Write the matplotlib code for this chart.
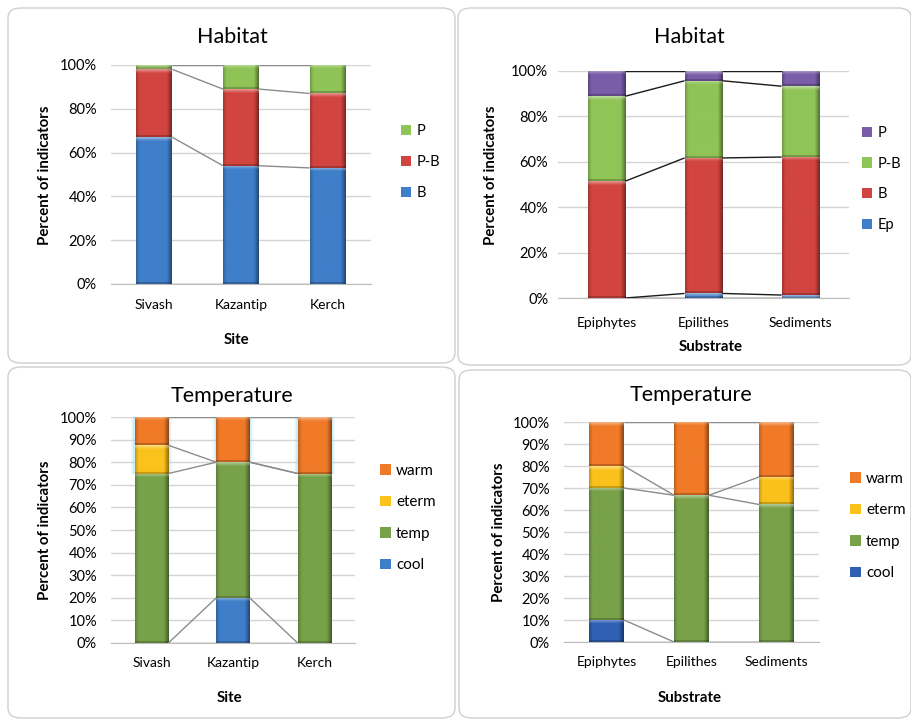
import numpy as np
import matplotlib
matplotlib.use('Agg')
import matplotlib.pyplot as plt
from matplotlib.patches import FancyBboxPatch, Patch
from matplotlib.colors import to_rgb

plt.rcParams['font.family'] = ['Lato', 'DejaVu Sans']

# categories
sites = ['Sivash', 'Kazantip', 'Kerch']
substrates = ['Epiphytes', 'Epilithes', 'Sediments']

# habitat groups by site (% of indicators)
hab_site_B = [67, 54, 53]
hab_site_PB = [31, 35, 34]
hab_site_P = [2, 11, 13]

# habitat groups by substrate
hab_sub_Ep = [0, 2, 1.3]
hab_sub_B = [51.5, 59.7, 60.8]
hab_sub_PB = [37.4, 34.0, 31.2]
hab_sub_P = [11.1, 4.3, 6.7]

# temperature groups by site
tmp_site_cool = [0, 20, 0]
tmp_site_temp = [75, 60, 75]
tmp_site_eterm = [12.5, 0, 0]
tmp_site_warm = [12.5, 20, 25]

# temperature groups by substrate
tmp_sub_cool = [10, 0, 0]
tmp_sub_temp = [60, 66.7, 62.5]
tmp_sub_eterm = [10, 0, 12.5]
tmp_sub_warm = [20, 33.3, 25]

BLUE = '#3f7ec8'
DBLUE = '#2f60b4'
RED = '#d1443f'
LGREEN = '#8fc457'
GREEN = '#78a24a'
PURPLE = '#7a5ca8'
ORANGE = '#f07a28'
YELLOW = '#fbc21c'

W, H = 912, 720
fig = plt.figure(figsize=(W / 100, H / 100), dpi=100)
fig.patch.set_facecolor('white')


def px(x, y):
    # pixel position (from top-left) to figure fraction
    return x / W, 1 - y / H


def panel_box(x0, y0, x1, y1):
    l, t = px(x0, y0)
    r, b = px(x1, y1)
    box = FancyBboxPatch((l, b), r - l, t - b, boxstyle='round,pad=0,rounding_size=0.014',
                         transform=fig.transFigure, facecolor='white',
                         edgecolor='#cfcfcf', linewidth=1.0, zorder=-5)
    fig.patches.append(box)


def shade(ax, bars, color, ax_w_px, ax_h_px):
    # bevelled look: lighter top edge, darker sides and bottom
    base = np.array(to_rgb(color))
    for p in bars:
        x0, y0 = p.get_x(), p.get_y()
        w, h = p.get_width(), p.get_height()
        if h <= 0:
            continue
        ph = max(int(round(h / 100 * ax_h_px)), 1)
        pw = max(int(round(w / 3 * ax_w_px)), 6)
        col = np.ones(pw)
        col[:4] = [0.8, 0.87, 0.93, 0.98]
        col[-5:] = [0.94, 0.86, 0.77, 0.68, 0.6]
        row = np.ones(ph)
        row[-min(2, ph):] = 0.8
        fac = row[:, None] * col[None, :]
        img = base[None, None, :] * fac[..., None]
        lift = np.array([0.4, 0.3, 0.18, 0.08])[:min(4, ph)]
        img[:len(lift)] = img[:len(lift)] * (1 - lift[:, None, None]) + lift[:, None, None]
        ax.imshow(np.clip(img, 0, 1), extent=(x0, x0 + w, y0, y0 + h),
                  aspect='auto', interpolation='bilinear', zorder=3)


def stacked_panel(rect, cats, series, colors, step, bar_w, line_color,
                  ytick_pad, xtick_pad, glow=()):
    l, t = px(rect[0], rect[1])
    r, b = px(rect[2], rect[3])
    ax = fig.add_axes([l, b, r - l, t - b])
    ax_w_px = rect[2] - rect[0]
    ax_h_px = rect[3] - rect[1]
    x = np.arange(len(cats))
    bottom = np.zeros(len(cats))
    tops = []
    for i, (vals, c) in enumerate(zip(series, colors)):
        vals = np.array(vals, dtype=float)
        if i in glow:
            # soft halo round the upper segments
            for k, a in [(8, 0.12), (5, 0.2), (3, 0.3)]:
                ax.bar(x, vals, bar_w + k / ax_w_px * 3, bottom=bottom, color='#9fdcf5',
                       alpha=a, zorder=1.5, linewidth=0)
        bars = ax.bar(x, vals, bar_w, bottom=bottom, color=c, zorder=2, linewidth=0)
        shade(ax, bars, c, ax_w_px, ax_h_px)
        bottom = bottom + vals
        tops.append(bottom.copy())
    # series lines between neighbouring bars
    for tp in [np.zeros(len(cats))] + tops:
        for j in range(len(cats) - 1):
            ax.plot([x[j] + bar_w / 2, x[j + 1] - bar_w / 2], [tp[j], tp[j + 1]],
                    color=line_color, lw=1.0, zorder=4, solid_capstyle='butt')
    ax.set_xlim(-0.5, len(cats) - 0.5)
    ax.set_ylim(0, 100)
    yt = np.arange(0, 101, step)
    ax.set_yticks(yt)
    ax.set_yticklabels([f'{v}%' for v in yt], fontsize=10.5)
    ax.set_xticks(x)
    ax.set_xticklabels(cats, fontsize=10)
    ax.tick_params(length=0)
    ax.tick_params(axis='y', pad=ytick_pad)
    ax.tick_params(axis='x', pad=xtick_pad)
    ax.yaxis.grid(True, color='#d4d4d4', lw=1.0, zorder=0)
    ax.set_axisbelow(True)
    for s in ['left', 'right', 'top']:
        ax.spines[s].set_visible(False)
    ax.spines['bottom'].set_color('#bdbdbd')
    ax.set_facecolor('none')
    return ax


def add_legend(ax, names, colors, x, y, fs):
    handles = [Patch(facecolor=c, edgecolor='none') for c in colors]
    lx, ly = px(x, y)
    ax.legend(handles[::-1], names[::-1], loc='center left', bbox_to_anchor=(lx, ly),
              bbox_transform=fig.transFigure, frameon=False, fontsize=fs,
              handlelength=0.7, handleheight=0.7, handletextpad=0.35,
              labelspacing=1.15, borderpad=0, borderaxespad=0)


def label(x, y, s, size, weight='normal', rot=0):
    fx, fy = px(x, y)
    fig.text(fx, fy, s, fontsize=size, fontweight=weight, rotation=rot,
             ha='center', va='center')


# frames
panel_box(8, 8, 455, 363)
panel_box(458, 8, 911, 365)
panel_box(8, 367, 455, 718)
panel_box(459, 370, 911, 718)

# Habitat by site
names1 = ['B', 'P-B', 'P']
cols1 = [BLUE, RED, LGREEN]
ax1 = stacked_panel((111, 65, 371, 284), sites, [hab_site_B, hab_site_PB, hab_site_P],
                    cols1, 20, 0.415, '#8c8c8c', 10, 11)
add_legend(ax1, names1, cols1, 401, 162, 10.5)
label(232, 37, 'Habitat', 15.5)
label(45, 175, 'Percent of indicators', 10.8, 'bold', 90)
label(236, 340, 'Site', 10.8, 'bold')

# Habitat by substrate
names2 = ['Ep', 'B', 'P-B', 'P']
cols2 = [BLUE, RED, LGREEN, PURPLE]
ax2 = stacked_panel((558, 71, 849, 298), substrates,
                    [hab_sub_Ep, hab_sub_B, hab_sub_PB, hab_sub_P],
                    cols2, 20, 0.39, '#1a1a1a', 7, 14)
add_legend(ax2, names2, cols2, 862, 179, 10.5)
label(689, 37, 'Habitat', 15.5)
label(491, 175, 'Percent of indicators', 10.8, 'bold', 90)
label(711, 347, 'Substrate', 10.8, 'bold')

# Temperature by site
names3 = ['cool', 'temp', 'eterm', 'warm']
cols3 = [BLUE, GREEN, YELLOW, ORANGE]
ax3 = stacked_panel((111, 417, 355, 643), sites,
                    [tmp_site_cool, tmp_site_temp, tmp_site_eterm, tmp_site_warm],
                    cols3, 10, 0.41, '#8c8c8c', 10, 10, glow=(2, 3))
add_legend(ax3, names3, cols3, 380, 518, 11)
label(232, 396, 'Temperature', 15.5)
label(45, 530, 'Percent of indicators', 10.8, 'bold', 90)
label(230, 698, 'Site', 10.8, 'bold')

# Temperature by substrate
cols4 = [DBLUE, GREEN, YELLOW, ORANGE]
ax4 = stacked_panel((564, 422, 819, 642), substrates,
                    [tmp_sub_cool, tmp_sub_temp, tmp_sub_eterm, tmp_sub_warm],
                    cols4, 10, 0.41, '#8c8c8c', 10, 10)
add_legend(ax4, names3, cols4, 850, 526, 11)
label(691, 395, 'Temperature', 15.5)
label(499, 532, 'Percent of indicators', 10.8, 'bold', 90)
label(690, 698, 'Substrate', 10.8, 'bold')

fig.savefig('out.png', dpi=100, facecolor='white')
